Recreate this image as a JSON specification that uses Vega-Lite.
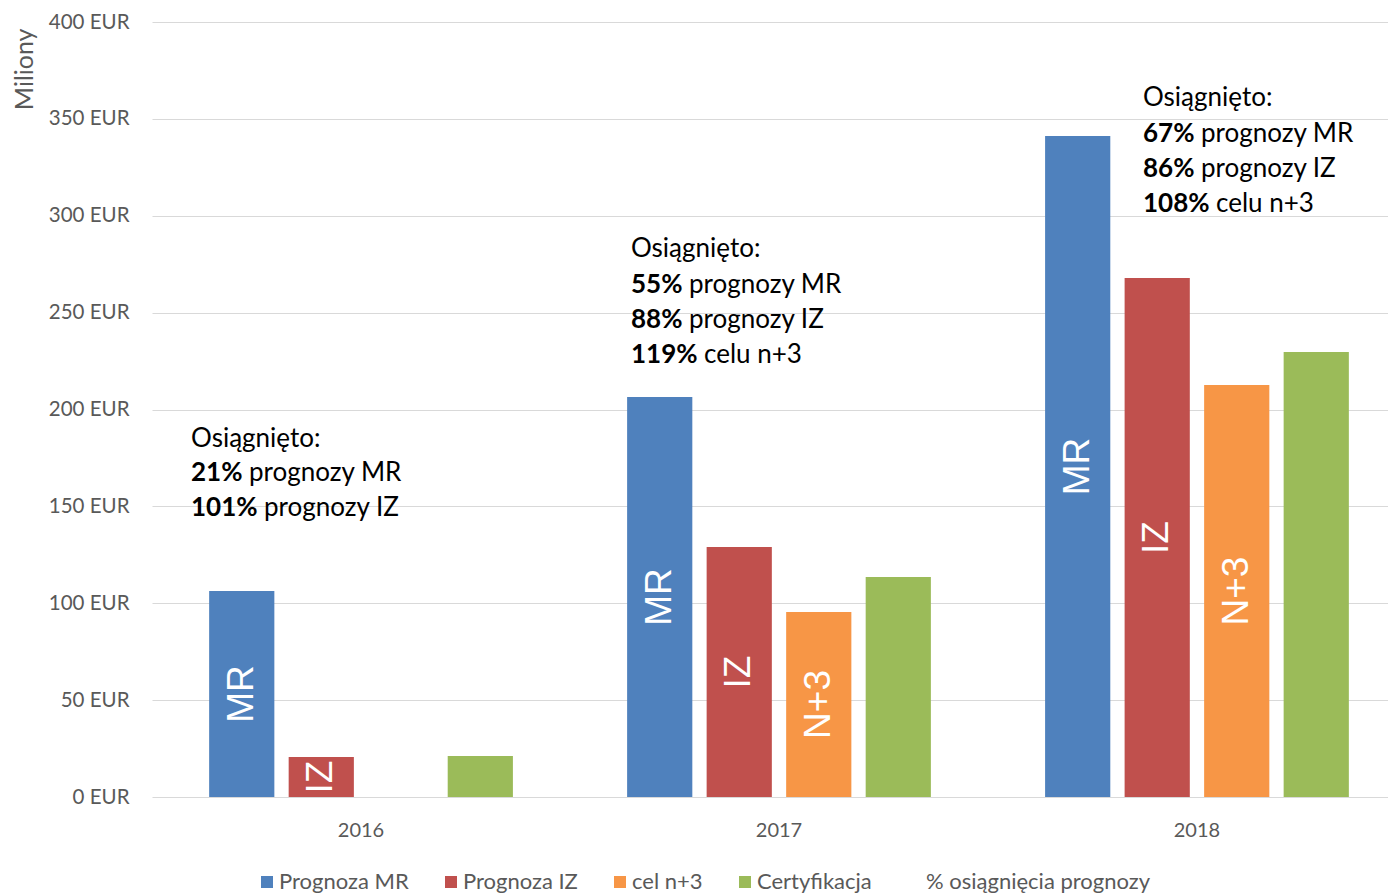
{
  "$schema": "https://vega.github.io/schema/vega-lite/v6.json",
  "width": 1236,
  "height": 775,
  "autosize": {"type": "none"},
  "padding": {"left": 152, "top": 22, "right": 0, "bottom": 97},
  "background": "white",
  "config": {"view": {"stroke": null}, "font": "Lato"},
  "datasets": {
    "bars": [
      {"year": "2016", "series": "Prognoza MR", "value": 106.3, "short": "MR"},
      {"year": "2016", "series": "Prognoza IZ", "value": 20.6, "short": "IZ"},
      {"year": "2016", "series": "Certyfikacja", "value": 21.2, "short": ""},
      {"year": "2017", "series": "Prognoza MR", "value": 206.5, "short": "MR"},
      {"year": "2017", "series": "Prognoza IZ", "value": 129.0, "short": "IZ"},
      {"year": "2017", "series": "cel n+3", "value": 95.5, "short": "N+3"},
      {"year": "2017", "series": "Certyfikacja", "value": 113.5, "short": ""},
      {"year": "2018", "series": "Prognoza MR", "value": 341.2, "short": "MR"},
      {"year": "2018", "series": "Prognoza IZ", "value": 267.9, "short": "IZ"},
      {"year": "2018", "series": "cel n+3", "value": 212.6, "short": "N+3"},
      {"year": "2018", "series": "Certyfikacja", "value": 229.7, "short": ""}
    ],
    "notes": [
      {"year": "2016", "pos": 184.8, "bold": "", "rest": "Osiągnięto:"},
      {"year": "2016", "pos": 167.2, "bold": "21%", "rest": "prognozy MR"},
      {"year": "2016", "pos": 149.2, "bold": "101%", "rest": "prognozy IZ"},
      {"year": "2017", "pos": 282.8, "bold": "", "rest": "Osiągnięto:"},
      {"year": "2017", "pos": 264.3, "bold": "55%", "rest": "prognozy MR"},
      {"year": "2017", "pos": 246.2, "bold": "88%", "rest": "prognozy IZ"},
      {"year": "2017", "pos": 228.1, "bold": "119%", "rest": "celu n+3"},
      {"year": "2018", "pos": 360.8, "bold": "", "rest": "Osiągnięto:"},
      {"year": "2018", "pos": 342.2, "bold": "67%", "rest": "prognozy MR"},
      {"year": "2018", "pos": 324.1, "bold": "86%", "rest": "prognozy IZ"},
      {"year": "2018", "pos": 306.1, "bold": "108%", "rest": "celu n+3"}
    ]
  },
  "layer": [
    {
      "data": {"name": "bars"},
      "mark": {"type": "bar"},
      "encoding": {
        "x": {
          "field": "year", "type": "nominal", "title": null,
          "scale": {"range": [0, 1254], "paddingInner": 0.239, "paddingOuter": 0.1196},
          "axis": {"labelAngle": 0, "labelFontSize": 20, "labelColor": "#595959", "ticks": false, "domain": false, "labelPadding": 23}
        },
        "xOffset": {
          "field": "series", "type": "nominal",
          "scale": {"domain": ["Prognoza MR", "Prognoza IZ", "cel n+3", "Certyfikacja"], "paddingInner": 0.18, "paddingOuter": 0.09}
        },
        "y": {
          "field": "value", "type": "quantitative", "title": "Miliony",
          "scale": {"domain": [0, 400]},
          "axis": {
            "values": [0, 50, 100, 150, 200, 250, 300, 350, 400],
            "labelExpr": "datum.value + ' EUR'",
            "labelFontSize": 20.5, "labelColor": "#595959", "labelPadding": 23,
            "ticks": false, "domain": false, "gridColor": "#d9d9d9",
            "titleFontSize": 25, "titleColor": "#595959", "titleFontWeight": "normal",
            "titleX": -128, "titleY": 6, "titleAlign": "right", "titleAngle": 270, "titleBaseline": "middle"
          }
        },
        "color": {
          "field": "series", "type": "nominal",
          "scale": {
            "domain": ["Prognoza MR", "Prognoza IZ", "cel n+3", "Certyfikacja", "% osiągnięcia prognozy"],
            "range": ["#4F81BD", "#C0504D", "#F79646", "#9BBB59", "#ffffff"]
          },
          "legend": {
            "title": null, "orient": "none", "legendX": 104, "legendY": 849,
            "direction": "horizontal", "columns": 5, "symbolType": "square", "symbolSize": 144,
            "symbolStrokeWidth": 0, "labelFontSize": 22, "labelColor": "#595959",
            "labelOffset": 1, "columnPadding": 31, "padding": 0, "labelLimit": 400
          }
        }
      }
    },
    {
      "data": {"name": "bars"},
      "transform": [{"filter": "datum.short != ''"}, {"calculate": "datum.value / 2", "as": "mid"}],
      "mark": {"type": "text", "font": "Liberation Sans", "fontSize": 37, "color": "white", "angle": 270, "align": "center", "baseline": "middle"},
      "encoding": {
        "x": {"field": "year", "type": "nominal", "title": null},
        "xOffset": {"field": "series", "type": "nominal"},
        "y": {"field": "mid", "type": "quantitative", "title": "Miliony"},
        "text": {"field": "short"}
      }
    },
    {
      "data": {"name": "notes"},
      "transform": [{"filter": "datum.bold != ''"}],
      "mark": {"type": "text", "fontSize": 26, "fontWeight": "bold", "color": "#000000", "align": "left", "baseline": "middle",
        "dx": {"expr": "datum.year == '2016' ? -170 : (datum.year == '2017' ? -148 : -54)"}},
      "encoding": {
        "x": {"field": "year", "type": "nominal", "title": null},
        "y": {"field": "pos", "type": "quantitative", "title": "Miliony"},
        "text": {"field": "bold"}
      }
    },
    {
      "data": {"name": "notes"},
      "mark": {"type": "text", "fontSize": 26, "color": "#000000", "align": "left", "baseline": "middle",
        "dx": {"expr": "(datum.year == '2016' ? -170 : (datum.year == '2017' ? -148 : -54)) + (length(datum.bold) == 0 ? 0 : (length(datum.bold) == 3 ? 58 : 73))"}},
      "encoding": {
        "x": {"field": "year", "type": "nominal", "title": null},
        "y": {"field": "pos", "type": "quantitative", "title": "Miliony"},
        "text": {"field": "rest"}
      }
    }
  ]
}
